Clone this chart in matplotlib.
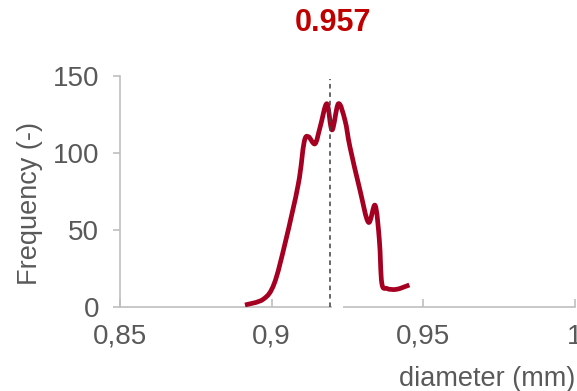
import numpy as np
import matplotlib
matplotlib.use("Agg")
import matplotlib.pyplot as plt
from matplotlib.path import Path
from matplotlib.patches import PathPatch

plt.rcParams['font.family'] = ['Liberation Sans', 'DejaVu Sans']

# data
diameter = [0.8912, 0.8972, 0.9008, 0.9045, 0.9088, 0.9107, 0.9121,
            0.9143, 0.9160, 0.9182, 0.9199, 0.9220, 0.9242, 0.9258, 0.9291,
            0.9319, 0.9341, 0.9355, 0.9363, 0.9380, 0.9412, 0.9454]
frequency = [1.3, 5, 15, 42, 80, 107, 110.6,
             106, 117, 132, 115, 132, 121, 104, 76,
             55, 66, 43.5, 15.6, 12, 11.5, 14.3]
mean_diameter = 0.9192
title_text = "0.957"
xticks = [0.85, 0.9, 0.95, 1.0]
xtick_labels = ["0,85", "0,9", "0,95", "1"]
yticks = [0, 50, 100, 150]

fig = plt.figure(figsize=(5.77, 3.91), dpi=100)
ax = fig.add_axes([120/577, (391-307)/391, (575-120)/577, (307-76)/391])
ax.set_xlim(0.85, 1.0)
ax.set_ylim(0, 150)

# smooth curve through points (Catmull-Rom as cubic Bezier)
x = np.array(diameter); y = np.array(frequency)
pts = np.column_stack([x, y])
verts = [tuple(pts[0])]
codes = [Path.MOVETO]
n = len(pts)
for i in range(n - 1):
    p0 = pts[i - 1] if i > 0 else pts[i]
    p1 = pts[i]
    p2 = pts[i + 1]
    p3 = pts[i + 2] if i + 2 < n else pts[i + 1]
    c1 = p1 + (p2 - p0) / 6.0
    c2 = p2 - (p3 - p1) / 6.0
    verts += [tuple(c1), tuple(c2), tuple(p2)]
    codes += [Path.CURVE4] * 3
patch = PathPatch(Path(verts, codes), facecolor='none', edgecolor='#A50021',
                  lw=3.4, capstyle='butt', joinstyle='round', zorder=3)
ax.add_patch(patch)

ax.plot([mean_diameter, mean_diameter], [0, 148], color='#404040',
        lw=1.1, dashes=(3, 2.5), zorder=4)

for s in ['top', 'right']:
    ax.spines[s].set_visible(False)
for s in ['left', 'bottom']:
    ax.spines[s].set_color('#BFBFBF')
    ax.spines[s].set_linewidth(1.2)

# small gap in the horizontal axis line
ax.plot([0.9200, 0.9235], [0, 0], color='white', lw=3, solid_capstyle='butt',
        clip_on=False, zorder=5)

ax.set_xticks(xticks)
ax.set_xticklabels(xtick_labels)
ax.set_yticks(yticks)
ax.tick_params(axis='x', direction='in', length=6, width=1.2, color='#BFBFBF',
               labelsize=20, labelcolor='#595959', pad=12)
ax.tick_params(axis='y', direction='out', length=5, width=1.2, color='#BFBFBF',
               labelsize=20, labelcolor='#595959', pad=10)

ax.set_xlabel('diameter (mm)', fontsize=19.5, color='#595959', loc='right', labelpad=12)
ax.set_ylabel('Frequency (-)', fontsize=19.5, color='#595959')
ax.yaxis.set_label_coords(-0.17, 0.45)

fig.text(333/577, 1 - 23/391, title_text, ha='center', va='center',
         fontsize=22, fontweight='bold', color='#C00000')

fig.savefig('out.png', dpi=100)
